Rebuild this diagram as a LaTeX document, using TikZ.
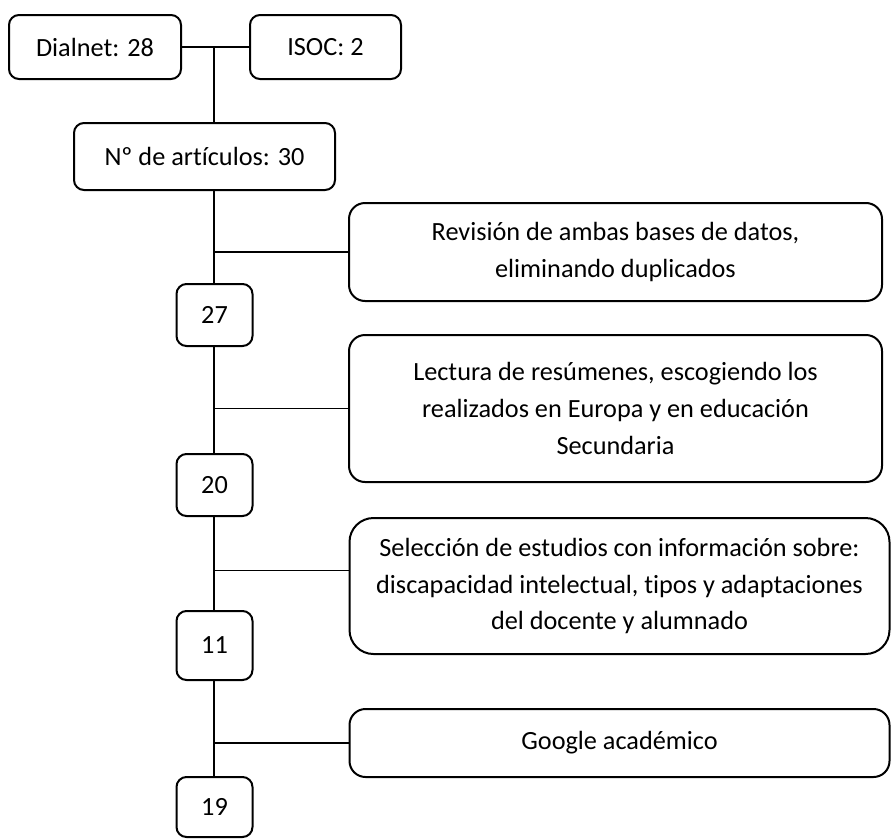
\documentclass[tikz,border=0pt]{standalone}
\usepackage{fontspec}
\setmainfont[Ligatures={NoCommon}]{Carlito}
\usetikzlibrary{calc}
\begin{document}
\begin{tikzpicture}[x=0.75pt,y=-0.75pt,
  box/.style={draw,line width=1.5pt,rounded corners=7.5pt,align=center,inner sep=0pt,font=\fontsize{19.7}{27.7}\selectfont},
  bigbox/.style={box,rounded corners=12pt},
  conn/.style={line width=1pt}]
\useasboundingbox (0,0) rectangle (892,839);
\node[box,minimum width=172*0.75pt,minimum height=64*0.75pt] (dial) at (95,47) {Dialnet: 28};
\node[box,minimum width=151*0.75pt,minimum height=64*0.75pt] (isoc) at (325.5,47) {ISOC: 2};
\node[box,minimum width=261*0.75pt,minimum height=67*0.75pt] (num) at (204.5,156.5) {Nº de artículos: 30};
\node[bigbox,minimum width=533*0.75pt,minimum height=98*0.75pt] (rev) at (615.5,252) {Revisión de ambas bases de datos,\\eliminando duplicados};
\node[box,minimum width=76*0.75pt,minimum height=62*0.75pt] (n27) at (214.5,315) {27};
\node[bigbox,minimum width=533*0.75pt,minimum height=147*0.75pt] (lec) at (615.5,408.5) {Lectura de resúmenes, escogiendo los\\realizados en Europa y en educación\\Secundaria};
\node[box,minimum width=76*0.75pt,minimum height=62*0.75pt] (n20) at (214.5,485) {20};
\node[bigbox,rounded corners=18pt,minimum width=540*0.75pt,minimum height=136*0.75pt] (sel) at (619.5,586) {Selección de estudios con información sobre:\\discapacidad intelectual, tipos y adaptaciones\\del docente y alumnado};
\node[box,minimum width=76*0.75pt,minimum height=69*0.75pt] (n11) at (214.5,645.5) {11};
\node[bigbox,minimum width=540*0.75pt,minimum height=68*0.75pt] (goo) at (619.5,743) {Google académico};
\node[box,minimum width=76*0.75pt,minimum height=60*0.75pt] (n19) at (214.5,807) {19};
\coordinate (sp) at (214,47);
\coordinate (selb) at ($(sel.north west)!0.39!(sel.south west)$);
\draw[conn] (dial.east) -- (isoc.west);
\draw[conn] (sp) -- (sp |- num.north);
\draw[conn] (num.south -| sp) -- (n27.north -| sp);
\draw[conn] (n27.south -| sp) -- (n20.north -| sp);
\draw[conn] (n20.south -| sp) -- (n11.north -| sp);
\draw[conn] (n11.south -| sp) -- (n19.north -| sp);
\draw[conn] (rev.west -| sp) -- (rev.west);
\draw[conn] (lec.west -| sp) -- (lec.west);
\draw[conn] (selb -| sp) -- (selb);
\draw[conn] (goo.west -| sp) -- (goo.west);
\end{tikzpicture}
\end{document}
